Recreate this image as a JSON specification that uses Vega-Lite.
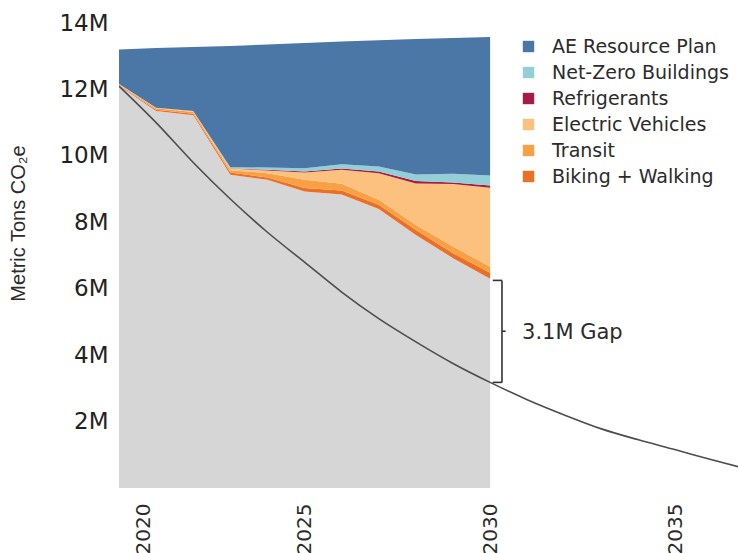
{
  "$schema": "https://vega.github.io/schema/vega-lite/v6.json",
  "width": 619,
  "height": 465,
  "autosize": {"type": "none"},
  "padding": {"left": 119, "top": 23, "right": 0, "bottom": 65},
  "background": "white",
  "config": {
    "view": {"stroke": null},
    "font": "DejaVu Sans"
  },
  "datasets": {
    "stack": [
      {"year": 2020, "measure": "Remaining", "mt": 12.1},
      {"year": 2020, "measure": "Biking + Walking", "mt": 0.02},
      {"year": 2020, "measure": "Transit", "mt": 0.02},
      {"year": 2020, "measure": "Electric Vehicles", "mt": 0.02},
      {"year": 2020, "measure": "Refrigerants", "mt": 0},
      {"year": 2020, "measure": "Net-Zero Buildings", "mt": 0},
      {"year": 2020, "measure": "AE Resource Plan", "mt": 1.04},
      {"year": 2021, "measure": "Remaining", "mt": 11.35},
      {"year": 2021, "measure": "Biking + Walking", "mt": 0.04},
      {"year": 2021, "measure": "Transit", "mt": 0.04},
      {"year": 2021, "measure": "Electric Vehicles", "mt": 0.02},
      {"year": 2021, "measure": "Refrigerants", "mt": 0},
      {"year": 2021, "measure": "Net-Zero Buildings", "mt": 0},
      {"year": 2021, "measure": "AE Resource Plan", "mt": 1.8},
      {"year": 2022, "measure": "Remaining", "mt": 11.22},
      {"year": 2022, "measure": "Biking + Walking", "mt": 0.05},
      {"year": 2022, "measure": "Transit", "mt": 0.05},
      {"year": 2022, "measure": "Electric Vehicles", "mt": 0.03},
      {"year": 2022, "measure": "Refrigerants", "mt": 0},
      {"year": 2022, "measure": "Net-Zero Buildings", "mt": 0},
      {"year": 2022, "measure": "AE Resource Plan", "mt": 1.93},
      {"year": 2023, "measure": "Remaining", "mt": 9.43},
      {"year": 2023, "measure": "Biking + Walking", "mt": 0.07},
      {"year": 2023, "measure": "Transit", "mt": 0.07},
      {"year": 2023, "measure": "Electric Vehicles", "mt": 0.05},
      {"year": 2023, "measure": "Refrigerants", "mt": 0.01},
      {"year": 2023, "measure": "Net-Zero Buildings", "mt": 0.03},
      {"year": 2023, "measure": "AE Resource Plan", "mt": 3.65},
      {"year": 2024, "measure": "Remaining", "mt": 9.28},
      {"year": 2024, "measure": "Biking + Walking", "mt": 0.07},
      {"year": 2024, "measure": "Transit", "mt": 0.13},
      {"year": 2024, "measure": "Electric Vehicles", "mt": 0.08},
      {"year": 2024, "measure": "Refrigerants", "mt": 0.02},
      {"year": 2024, "measure": "Net-Zero Buildings", "mt": 0.07},
      {"year": 2024, "measure": "AE Resource Plan", "mt": 3.7},
      {"year": 2025, "measure": "Remaining", "mt": 8.93},
      {"year": 2025, "measure": "Biking + Walking", "mt": 0.1},
      {"year": 2025, "measure": "Transit", "mt": 0.25},
      {"year": 2025, "measure": "Electric Vehicles", "mt": 0.22},
      {"year": 2025, "measure": "Refrigerants", "mt": 0.03},
      {"year": 2025, "measure": "Net-Zero Buildings", "mt": 0.1},
      {"year": 2025, "measure": "AE Resource Plan", "mt": 3.77},
      {"year": 2026, "measure": "Remaining", "mt": 8.84},
      {"year": 2026, "measure": "Biking + Walking", "mt": 0.12},
      {"year": 2026, "measure": "Transit", "mt": 0.2},
      {"year": 2026, "measure": "Electric Vehicles", "mt": 0.42},
      {"year": 2026, "measure": "Refrigerants", "mt": 0.04},
      {"year": 2026, "measure": "Net-Zero Buildings", "mt": 0.13},
      {"year": 2026, "measure": "AE Resource Plan", "mt": 3.69},
      {"year": 2027, "measure": "Remaining", "mt": 8.4},
      {"year": 2027, "measure": "Biking + Walking", "mt": 0.13},
      {"year": 2027, "measure": "Transit", "mt": 0.15},
      {"year": 2027, "measure": "Electric Vehicles", "mt": 0.8},
      {"year": 2027, "measure": "Refrigerants", "mt": 0.05},
      {"year": 2027, "measure": "Net-Zero Buildings", "mt": 0.15},
      {"year": 2027, "measure": "AE Resource Plan", "mt": 3.8},
      {"year": 2028, "measure": "Remaining", "mt": 7.62},
      {"year": 2028, "measure": "Biking + Walking", "mt": 0.15},
      {"year": 2028, "measure": "Transit", "mt": 0.15},
      {"year": 2028, "measure": "Electric Vehicles", "mt": 1.25},
      {"year": 2028, "measure": "Refrigerants", "mt": 0.07},
      {"year": 2028, "measure": "Net-Zero Buildings", "mt": 0.2},
      {"year": 2028, "measure": "AE Resource Plan", "mt": 4.08},
      {"year": 2029, "measure": "Remaining", "mt": 6.92},
      {"year": 2029, "measure": "Biking + Walking", "mt": 0.15},
      {"year": 2029, "measure": "Transit", "mt": 0.2},
      {"year": 2029, "measure": "Electric Vehicles", "mt": 1.88},
      {"year": 2029, "measure": "Refrigerants", "mt": 0.05},
      {"year": 2029, "measure": "Net-Zero Buildings", "mt": 0.26},
      {"year": 2029, "measure": "AE Resource Plan", "mt": 4.09},
      {"year": 2030, "measure": "Remaining", "mt": 6.3},
      {"year": 2030, "measure": "Biking + Walking", "mt": 0.18},
      {"year": 2030, "measure": "Transit", "mt": 0.18},
      {"year": 2030, "measure": "Electric Vehicles", "mt": 2.38},
      {"year": 2030, "measure": "Refrigerants", "mt": 0.07},
      {"year": 2030, "measure": "Net-Zero Buildings", "mt": 0.3},
      {"year": 2030, "measure": "AE Resource Plan", "mt": 4.17}
    ],
    "pathway": [
      {"year": 2020, "mt": 12.1},
      {"year": 2021, "mt": 11.0},
      {"year": 2022, "mt": 9.8},
      {"year": 2023, "mt": 8.7},
      {"year": 2024, "mt": 7.7},
      {"year": 2025, "mt": 6.8},
      {"year": 2026, "mt": 5.9},
      {"year": 2027, "mt": 5.1},
      {"year": 2028, "mt": 4.4},
      {"year": 2029, "mt": 3.75},
      {"year": 2030, "mt": 3.18},
      {"year": 2031, "mt": 2.66},
      {"year": 2032, "mt": 2.2},
      {"year": 2033, "mt": 1.78},
      {"year": 2034, "mt": 1.45},
      {"year": 2035, "mt": 1.15},
      {"year": 2036, "mt": 0.84},
      {"year": 2037, "mt": 0.55}
    ],
    "bracket": [
      {"year": 2030.07, "year2": 2030.32, "mt": 6.25, "mt2": 6.25},
      {"year": 2030.07, "year2": 2030.32, "mt": 3.18, "mt2": 3.18},
      {"year": 2030.32, "year2": 2030.32, "mt": 6.25, "mt2": 3.18},
      {"year": 2030.32, "year2": 2030.42, "mt": 4.72, "mt2": 4.72}
    ],
    "label": [
      {"year": 2030.86, "mt": 4.68, "text": "3.1M Gap"}
    ]
  },
  "layer": [
    {
      "data": {"name": "stack"},
      "transform": [
        {"calculate": "indexof(['Remaining','Biking + Walking','Transit','Electric Vehicles','Refrigerants','Net-Zero Buildings','AE Resource Plan'], datum.measure)", "as": "ord"}
      ],
      "mark": {"type": "area", "interpolate": "linear", "opacity": 1},
      "encoding": {
        "x": {
          "field": "year",
          "type": "quantitative",
          "scale": {"domain": [2020, 2036.68], "nice": false, "zero": false},
          "axis": {
            "title": null,
            "values": [2020, 2025, 2030, 2035],
            "format": "d",
            "labelAngle": -90,
            "labelAlign": "right",
            "labelBaseline": "middle",
            "labelOffset": {"condition": {"test": "datum.value === 2020", "value": 24}, "value": 0},
            "labelFontSize": 20,
            "labelColor": "#2b2b2b",
            "labelPadding": 15,
            "ticks": false,
            "domain": false,
            "grid": false
          }
        },
        "y": {
          "field": "mt",
          "type": "quantitative",
          "stack": "zero",
          "scale": {"domain": [0, 14], "nice": false},
          "axis": {
            "title": "Metric Tons CO₂e",
            "titleFont": "Liberation Sans",
            "titleFontSize": 20,
            "titleFontWeight": "normal",
            "titleColor": "#2b2b2b",
            "titleX": -101,
            "titleY": 200,
            "titleAlign": "center",
            "titleBaseline": "middle",
            "titleAngle": -90,
            "values": [2, 4, 6, 8, 10, 12, 14],
            "labelExpr": "datum.value + 'M'",
            "labelFontSize": 23,
            "labelFontWeight": "normal",
            "labelColor": "#222222",
            "labelPadding": 11,
            "ticks": false,
            "domain": false,
            "grid": false
          }
        },
        "color": {
          "field": "measure",
          "type": "nominal",
          "scale": {
            "domain": ["AE Resource Plan", "Net-Zero Buildings", "Refrigerants", "Electric Vehicles", "Transit", "Biking + Walking", "Remaining"],
            "range": ["#4b77a6", "#92cfd7", "#a51c45", "#fcc17f", "#f8a044", "#ec6f26", "#d6d6d6"]
          },
          "legend": {
            "title": null,
            "orient": "none",
            "legendX": 400,
            "legendY": 14,
            "values": ["AE Resource Plan", "Net-Zero Buildings", "Refrigerants", "Electric Vehicles", "Transit", "Biking + Walking"],
            "symbolType": "square",
            "symbolSize": 130,
            "symbolStrokeWidth": 0,
            "labelFontSize": 19,
            "labelColor": "#2b2b2b",
            "labelOffset": 14,
            "rowPadding": 6,
            "labelLimit": 300
          }
        },
        "order": {"field": "ord", "type": "quantitative"}
      }
    },
    {
      "data": {"name": "pathway"},
      "mark": {"type": "line", "color": "#4d4d4d", "strokeWidth": 1.6, "interpolate": "monotone", "clip": true},
      "encoding": {
        "x": {"field": "year", "type": "quantitative"},
        "y": {"field": "mt", "type": "quantitative"}
      }
    },
    {
      "data": {"name": "bracket"},
      "mark": {"type": "rule", "color": "#333333", "strokeWidth": 1.6},
      "encoding": {
        "x": {"field": "year", "type": "quantitative"},
        "x2": {"field": "year2"},
        "y": {"field": "mt", "type": "quantitative"},
        "y2": {"field": "mt2"}
      }
    },
    {
      "data": {"name": "label"},
      "mark": {"type": "text", "align": "left", "baseline": "middle", "fontSize": 21, "color": "#2b2b2b"},
      "encoding": {
        "x": {"field": "year", "type": "quantitative"},
        "y": {"field": "mt", "type": "quantitative"},
        "text": {"field": "text"}
      }
    }
  ]
}
